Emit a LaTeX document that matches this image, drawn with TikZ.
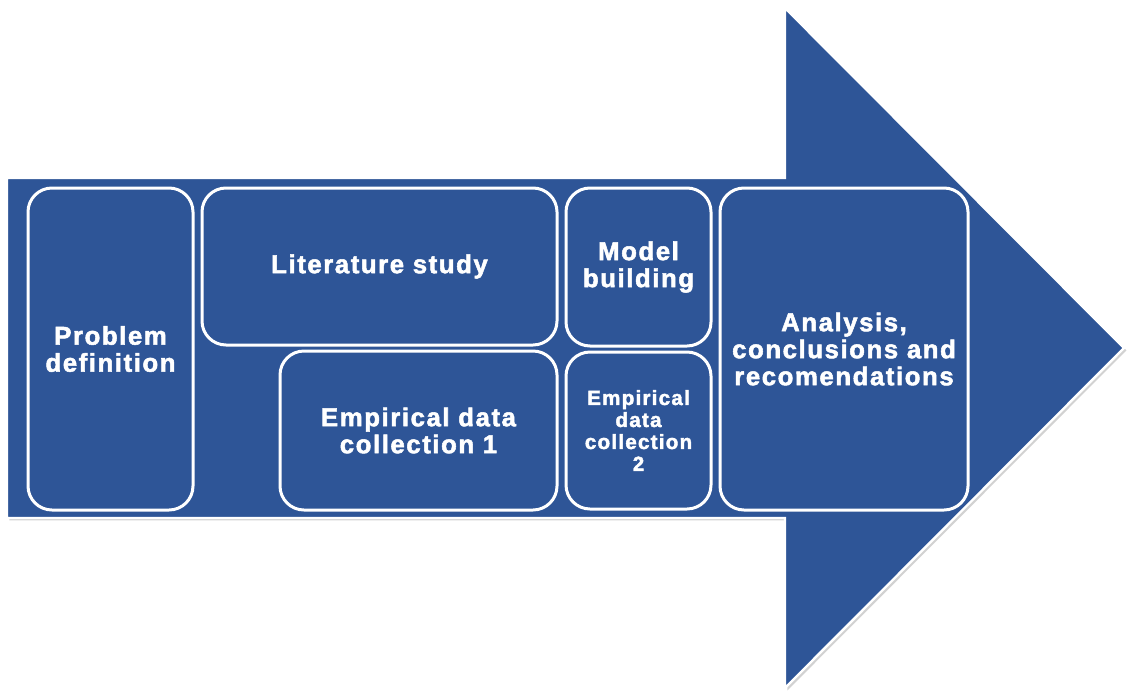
\documentclass[tikz,border=0pt]{standalone}
\usepackage{fontspec}
\newfontfamily\boldsans{Liberation Sans}[LetterSpace=6, FakeBold=2]
\usetikzlibrary{shadows}
\definecolor{arrowblue}{RGB}{46,85,151}
\tikzset{
  stage/.style={draw=white, line width=1.5pt, rounded corners=12pt,
    fill=arrowblue, text=white, align=center, inner sep=0pt,
    font=\boldsans\bfseries\fontsize{12.9}{13.5}\selectfont},
  smallstage/.style={stage, font=\boldsans\bfseries\fontsize{10.3}{11}\selectfont}
}
\begin{document}
\begin{tikzpicture}[x=0.5pt,y=-0.5pt]
  \useasboundingbox (0,0) rectangle (1127,696);
  \fill[white] (0,0) rectangle (1127,696);
  \filldraw[arrowblue, draw=white, line width=1.2pt,
    drop shadow={shadow xshift=1.2pt, shadow yshift=-1.2pt, opacity=0.35}]
    (7,178) -- (785,178) -- (785,8) -- (1124,348) -- (785,688) -- (785,518) -- (7,518) -- cycle;
  \node[stage, minimum width=82.5pt, minimum height=161pt] (problem) at (110.5,349) {Problem\\definition};
  \node[stage, minimum width=177.5pt, minimum height=78.5pt] (literature) at (379.5,266.5) {Literature study};
  \node[stage, minimum width=138.5pt, minimum height=79.5pt] (empirical1) at (418.5,430.5) {Empirical data\\collection 1};
  \node[stage, minimum width=72.5pt, minimum height=79pt] (model) at (638.5,267) {Model\\building};
  \node[smallstage, minimum width=72.5pt, minimum height=78.5pt] (empirical2) at (638.5,430.5) {Empirical\\data\\collection\\2};
  \node[stage, minimum width=124pt, minimum height=161pt] (analysis) at (844,349) {Analysis,\\conclusions and\\recomendations};
\end{tikzpicture}
\end{document}
